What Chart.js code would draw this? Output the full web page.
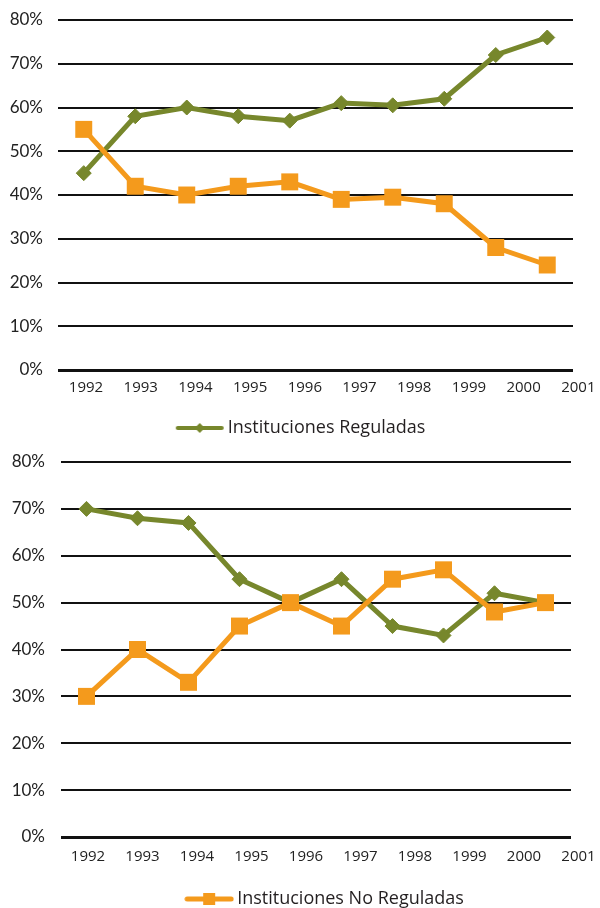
<!DOCTYPE html>
<html><head><meta charset="utf-8">
<script src="https://cdn.jsdelivr.net/npm/chart.js@4"></script>
<style>
html,body{margin:0;padding:0;background:#fff;width:600px;height:908px;overflow:hidden;position:relative}
#w1{position:absolute;left:0;top:0;width:600px;height:450px}
#w2{position:absolute;left:0;top:450px;width:645px;height:480px}
canvas{display:block}
</style></head><body>
<div id="w1"><canvas id="c1" width="600" height="450"></canvas></div>
<div id="w2"><canvas id="c2" width="645" height="480"></canvas></div>
<script>
// ---- data ----
const years = ['1992','1993','1994','1995','1996','1997','1998','1999','2000','2001'];
const yearTicks = [1992,1993,1994,1995,1996,1997,1998,1999,2000,2001];
const yTicks = [0,10,20,30,40,50,60,70,80];
const topReguladas   = [45, 58, 60, 58, 57, 61, 60.5, 62, 72, 76];
const topNoReguladas = [55, 42, 40, 42, 43, 39, 39.5, 38, 28, 24];
const botReguladas   = [70, 68, 67, 55, 50, 55, 45, 43, 52, 50];
const botNoReguladas = [30, 40, 33, 45, 50, 45, 55, 57, 48, 50];
const labelReg = 'Instituciones Reguladas';
const labelNoReg = 'Instituciones No Reguladas';

const GREEN = '#77872c';
const ORANGE = '#f49a1c';

function glyph(color, shape){
  const c = document.createElement('canvas');
  c.width = 50; c.height = 16;
  const g = c.getContext('2d');
  g.strokeStyle = color; g.fillStyle = color;
  g.lineWidth = shape === 'rect' ? 5 : 4; g.lineCap = 'round';
  g.beginPath(); g.moveTo(3, 8); g.lineTo(47, 8); g.stroke();
  if (shape === 'rect') { g.fillRect(19, 2, 12, 12); }
  else { g.beginPath(); g.moveTo(25, 3); g.lineTo(30, 8); g.lineTo(25, 13); g.lineTo(20, 8); g.closePath(); g.fill(); }
  return c;
}

function makeChart(id, reg, noReg, legendIdx, gm){
  return new Chart(document.getElementById(id), {
    type: 'line',
    data: {
      labels: years,
      datasets: [
        {label: labelReg, data: reg, borderColor: GREEN, backgroundColor: GREEN, borderWidth: 5,
         pointStyle: 'rectRot', pointRadius: 7.5, pointBorderWidth: 1, pointBackgroundColor: GREEN, pointBorderColor: GREEN, tension: 0},
        {label: labelNoReg, data: noReg, borderColor: ORANGE, backgroundColor: ORANGE, borderWidth: 5,
         pointStyle: 'rect', pointRadius: 12, pointBorderWidth: 0, pointBackgroundColor: ORANGE, tension: 0, order: -1}
      ]
    },
    options: {
      responsive: false, animation: false, devicePixelRatio: 1,
      layout: {padding: gm.pad},
      events: [],
      scales: {
        x: {type: 'category', offset: true, display: false},
        xl: {type: 'linear', position: 'bottom', min: gm.xmin, max: gm.xmax,
          afterBuildTicks: s => { s.ticks = yearTicks.map(v => ({value: v})); },
          afterFit: s => { s.paddingLeft = 0; s.paddingRight = 0; },
          grid: {display: false, drawTicks: false}, border: {display: false},
          ticks: {autoSkip: false, padding: gm.xpad, color: '#222', font: {family: 'Open Sans', size: 15}, callback: v => String(v)}},
        y: {type: 'linear', position: 'left', min: 0, max: 80,
          afterBuildTicks: s => { s.ticks = yTicks.map(v => ({value: v})); },
          afterFit: s => { s.width = gm.yw; s.paddingTop = 0; s.paddingBottom = 0; },
          grid: {color: '#111', lineWidth: c => (c.tick && c.tick.value === 0) ? 3 : 2, drawTicks: false}, border: {display: false},
          ticks: {padding: gm.ypad, color: '#222', font: {family: 'Lato', size: 17}, callback: v => v + '%'}},
        yr: {type: 'linear', position: 'right', display: true,
          grid: {display: false, drawTicks: false}, border: {display: false}, ticks: {display: false},
          afterFit: s => { s.width = gm.rw; }}
      },
      plugins: {
        tooltip: {enabled: false},
        legend: {position: 'bottom',
          labels: {usePointStyle: true, pointStyle: gm.glyph, pointStyleWidth: 38, boxHeight: 16, padding: gm.lpad,
            color: '#231f20', font: {family: 'Open Sans', size: 18},
            filter: item => item.datasetIndex === legendIdx}}
      }
    }
  });
}

makeChart('c1', topReguladas, topNoReguladas, 0, {
  pad: {top: 20, left: 6, right: 0, bottom: 3}, yw: 52, rw: 27, ypad: 15, xpad: 9, lpad: 13,
  xmin: 1991.488, xmax: 2000.903, glyph: glyph(GREEN, 'rectRot')
});
makeChart('c2', botReguladas, botNoReguladas, 1, {
  pad: {top: 12, left: 9, right: 0, bottom: 12}, yw: 52, rw: 74, ypad: 16, xpad: 11, lpad: 13,
  xmin: 1991.505, xmax: 2000.862, glyph: glyph(ORANGE, 'rect')
});
</script>
</body></html>
